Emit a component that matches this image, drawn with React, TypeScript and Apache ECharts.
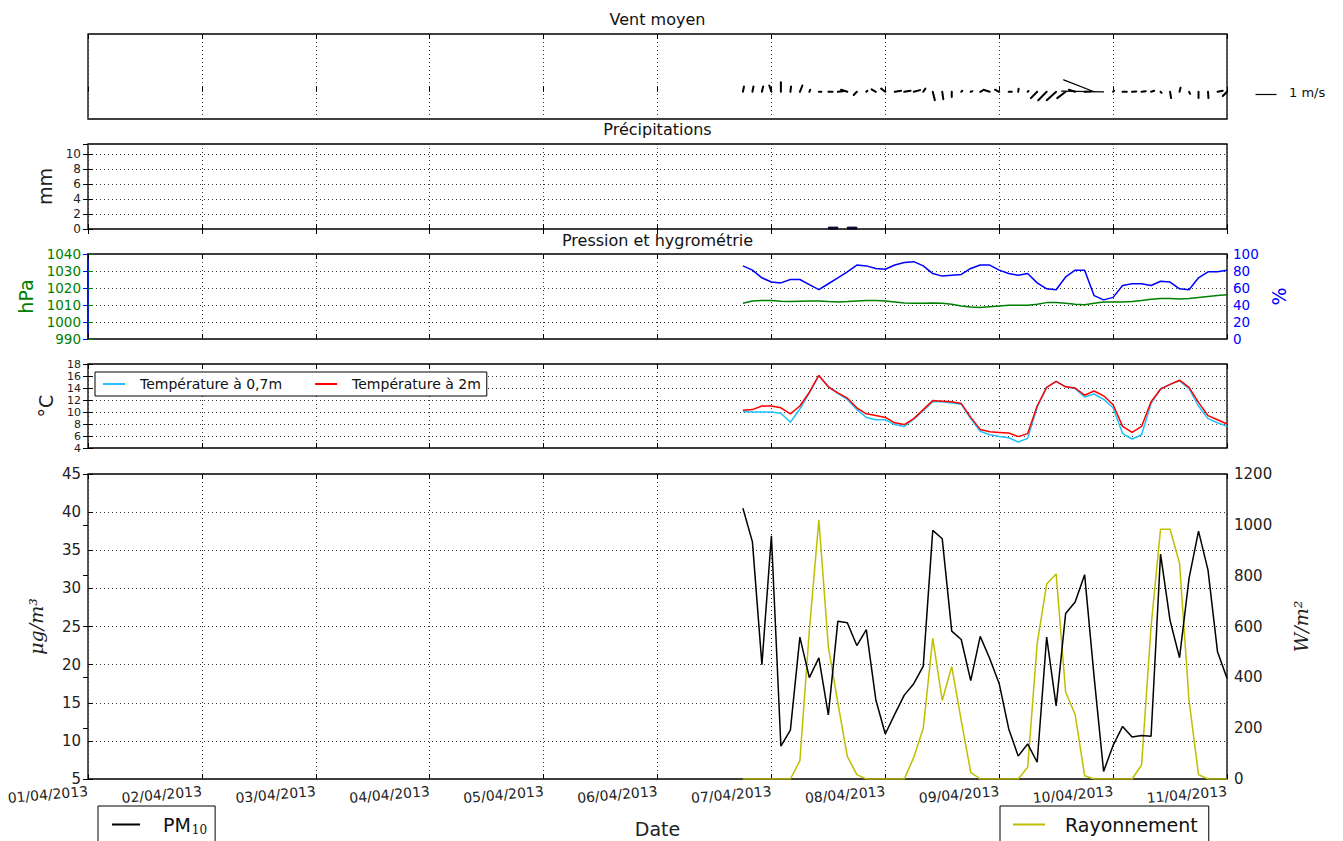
import React, { useEffect, useRef } from 'react';
import * as echarts from 'echarts';

// ---------- DATA ----------
const dateLabels = [
  '01/04/2013', '02/04/2013', '03/04/2013', '04/04/2013', '05/04/2013', '06/04/2013',
  '07/04/2013', '08/04/2013', '09/04/2013', '10/04/2013', '11/04/2013',
];
// first sample: 06/04/2013 18:00, in hours since 01/04/2013 00:00; one sample every 2 hours
const START_HOUR = 138;
const STEP_HOURS = 2;

const windU = [
  0.05, 0.05, 0.06, -0.1, 0.0, 0.03, 0.12, 0.04, 0.12, 0.2,
  0.25, -0.3, -0.15, 0.05, -0.2, -0.2, 0.3, 0.3, 0.3, 0.1,
  0.1, 0.05, 0.0, 0.05, 0.08, 0.1, -0.3, -0.2, 0.15, 0.02,
  0.04, -0.3, -0.4, -0.45, -0.4, -0.3, 0.3, -1.45, -2.0, 0.05,
  0.2, 0.2, 0.2, 0.15, 0.05, 0.05, 0.05, 0.05, 0.0, 0.02,
  0.25, -0.2,
];
const windV = [
  0.25, 0.25, 0.25, 0.3, 0.45, 0.25, 0.3, 0.1, 0.0, 0.0,
  0.03, 0.1, -0.15, 0.05, 0.12, 0.15, 0.05, 0.05, 0.08, 0.15,
  -0.4, -0.35, -0.25, 0.05, 0.03, 0.05, 0.1, 0.1, 0.0, 0.15,
  0.04, -0.3, -0.4, -0.4, -0.3, 0.1, 0.02, 0.57, 0.03, 0.05,
  0.0, 0.02, 0.03, 0.05, -0.05, -0.3, 0.2, -0.1, -0.3, -0.3,
  0.05, -0.2,
];
const precipitations = [
  0, 0, 0, 0, 0, 0, 0, 0, 0, 0.25,
  0, 0.25, 0, 0, 0, 0, 0, 0, 0, 0,
  0, 0, 0, 0, 0, 0, 0, 0, 0, 0,
  0, 0, 0, 0, 0, 0, 0, 0, 0, 0,
  0, 0, 0, 0, 0, 0, 0, 0, 0, 0,
  0, 0,
];
const pression = [
  1011, 1012.4, 1012.6, 1012.6, 1012.2, 1012, 1012.2, 1012.4, 1012.4, 1012,
  1011.8, 1012, 1012.4, 1012.6, 1012.6, 1012.4, 1011.8, 1011.2, 1011, 1011,
  1011.2, 1011, 1010.4, 1009.4, 1008.8, 1008.6, 1009, 1009.4, 1009.8, 1009.8,
  1009.8, 1010.4, 1011.4, 1011.4, 1011, 1010.4, 1010.2, 1011, 1011.8, 1011.8,
  1011.8, 1012, 1012.6, 1013.4, 1013.8, 1013.8, 1013.6, 1013.8, 1014.4, 1015,
  1015.6, 1016,
];
const humidite = [
  86, 81, 72, 67, 66, 70, 70, 64, 58, 65,
  72, 79, 87, 86, 83, 82, 87, 90, 91, 86,
  77, 74, 75, 76, 83, 87, 87, 81, 77, 75,
  77, 66, 59, 58, 73, 81, 81, 51, 46, 49,
  63, 65, 65, 63, 68, 67, 59, 58, 72, 79,
  79, 81,
];
const temp07 = [
  10.1, 10.0, 10.0, 10.0, 9.8, 8.3, 10.5, 13.2, 16.1, 14.2,
  13.1, 12.1, 10.4, 9.1, 8.7, 8.7, 7.9, 7.6, 8.8, 10.2,
  11.7, 11.7, 11.5, 11.3, 8.9, 6.8, 6.2, 5.9, 5.7, 5.0,
  5.6, 10.8, 14.1, 15.1, 14.2, 13.9, 12.5, 13.0, 12.1, 10.7,
  6.4, 5.5, 6.2, 11.4, 13.9, 14.6, 15.2, 13.9, 11.0, 8.9,
  8.2, 7.6,
];
const temp2 = [
  10.3, 10.4, 11.0, 11.0, 10.7, 9.7, 11.0, 13.3, 16.1, 14.2,
  13.2, 12.3, 10.7, 9.7, 9.4, 9.1, 8.2, 7.9, 8.9, 10.4,
  11.9, 11.8, 11.7, 11.4, 9.1, 7.1, 6.7, 6.6, 6.5, 5.9,
  6.4, 11.0, 14.1, 15.1, 14.2, 14.0, 12.8, 13.5, 12.7, 11.2,
  7.6, 6.6, 7.6, 11.7, 13.8, 14.6, 15.3, 14.1, 11.6, 9.4,
  8.7, 8.0,
];
const pm10 = [
  40.5, 36.1, 20.0, 36.9, 9.3, 11.4, 23.6, 18.3, 20.9, 13.4,
  25.7, 25.5, 22.5, 24.6, 15.4, 10.9, 13.5, 16.0, 17.5, 19.8,
  37.6, 36.5, 24.4, 23.3, 17.9, 23.7, 20.8, 17.5, 11.6, 8.0,
  9.6, 7.2, 23.6, 14.6, 26.7, 28.2, 31.8, 18.4, 6.0, 9.4,
  11.9, 10.5, 10.7, 10.6, 34.5, 25.8, 20.9, 31.3, 37.5, 32.4,
  21.7, 18.2,
];
const rayonnement = [
  0, 0, 0, 0, 0, 0, 72, 585, 1020, 520,
  300, 89, 17, 0, 0, 0, 0, 0, 85, 200,
  553, 309, 443, 230, 26, 0, 0, 0, 0, 0,
  46, 533, 767, 807, 342, 254, 13, 0, 0, 0,
  0, 0, 55, 600, 983, 983, 849, 309, 17, 0,
  0, 0,
];

// ---------- LAYOUT / STYLE ----------
const FONT = 'DejaVu Sans';
const WIND_PX = 21; // pixels per 1 m/s (quiver key)
const grids = [
  { top: 34, height: 85 },
  { top: 144, height: 85 },
  { top: 254, height: 85 },
  { top: 364, height: 84 },
  { top: 474, height: 305 },
];
const GRID_LEFT = 88;
const GRID_RIGHT = 116;
const DOT = { color: '#333', type: [1, 3] as number[], width: 1 };
const plain = (v: number) => String(v);

function buildOption() {
  const hours = pm10.map((_, i) => START_HOUR + STEP_HOURS * i);
  const pair = (arr: number[]) => arr.map((v, i) => [hours[i], v]);

  const xAxis: any[] = [];
  grids.forEach((_, gi) => {
    const last = gi === grids.length - 1;
    xAxis.push({
      type: 'value', gridIndex: gi, min: 0, max: 240, interval: 24, position: 'bottom',
      axisLine: { show: false },
      axisTick: { show: true, inside: true, length: 5, lineStyle: { color: '#000' } },
      axisLabel: last
        ? {
            show: true, rotate: 5, fontSize: 14, color: '#222', fontFamily: FONT, margin: 12,
            formatter: (v: number) => dateLabels[Math.round(v / 24)] ?? '',
          }
        : { show: false },
      splitLine: { show: true, lineStyle: DOT },
      name: last ? 'Date' : '',
      nameLocation: 'middle',
      nameGap: 40,
      nameTextStyle: { fontSize: 19, color: '#222', fontFamily: FONT },
    });
    xAxis.push({
      type: 'value', gridIndex: gi, min: 0, max: 240, interval: 24, position: 'top',
      axisLine: { show: false }, axisLabel: { show: false }, splitLine: { show: false },
      axisTick: { show: true, inside: true, length: 5, lineStyle: { color: '#000' } },
    });
  });

  const tickOnly = (gi: number, min: number, max: number, interval: number) => ({
    type: 'value', gridIndex: gi, position: 'right', min, max, interval,
    axisLine: { show: false }, axisLabel: { show: false }, splitLine: { show: false },
    axisTick: { show: true, inside: true, length: 5, lineStyle: { color: '#000' } },
  });
  const leftAxis = (gi: number, min: number, max: number, interval: number, name: string, nameGap: number, fontSize: number, showMax: boolean, extra: any = {}) => ({
    type: 'value', gridIndex: gi, position: 'left', min, max, interval,
    axisLine: { show: false },
    axisTick: { show: true, inside: true, length: 5, lineStyle: { color: '#000' } },
    axisLabel: {
      fontSize, lineHeight: fontSize, color: '#222', fontFamily: FONT, margin: 7,
      showMaxLabel: showMax, showMinLabel: true, hideOverlap: false, formatter: plain,
    },
    splitLine: { show: true, lineStyle: DOT },
    name, nameLocation: 'middle', nameGap, nameRotate: 90,
    nameTextStyle: { fontSize: 19, color: '#222', fontFamily: FONT },
    ...extra,
  });

  const yAxis: any[] = [
    { type: 'value', gridIndex: 0, min: -0.32, max: 0.68, show: false },
    leftAxis(1, 0, 11.4, 2, 'mm', 30, 12, false),
    tickOnly(1, 0, 11.4, 2),
    leftAxis(2, 990, 1040, 10, 'hPa', 50, 13.5, true, {
      axisLine: { show: true, lineStyle: { color: '#008000', width: 1.5 } },
      axisLabel: { fontSize: 13.5, color: '#008000', fontFamily: FONT, margin: 7, formatter: plain },
      axisTick: { show: true, inside: true, length: 5, lineStyle: { color: '#008000' } },
      nameTextStyle: { fontSize: 19, color: '#008000', fontFamily: FONT },
    }),
    {
      type: 'value', gridIndex: 2, position: 'right', min: 0, max: 100, interval: 20,
      axisLine: { show: true, lineStyle: { color: '#0000ff', width: 1.5 } },
      axisTick: { show: true, inside: true, length: 5, lineStyle: { color: '#0000ff' } },
      axisLabel: { fontSize: 13.5, color: '#0000ff', fontFamily: FONT, margin: 6, formatter: plain },
      splitLine: { show: false },
      name: '%', nameLocation: 'middle', nameGap: 38, nameRotate: 90,
      nameTextStyle: { fontSize: 19, color: '#0000ff', fontFamily: FONT },
    },
    leftAxis(3, 4, 18, 2, '°C', 33, 11, true),
    tickOnly(3, 4, 18, 2),
    leftAxis(4, 5, 45, 5, 'μg/m³', 43, 15, true, {
      nameTextStyle: { fontSize: 19, color: '#222', fontFamily: 'DejaVu Serif', fontStyle: 'italic' },
    }),
    {
      type: 'value', gridIndex: 4, position: 'right', min: 0, max: 1200, interval: 200,
      axisLine: { show: false },
      axisTick: { show: true, inside: true, length: 5, lineStyle: { color: '#000' } },
      axisLabel: { fontSize: 15, color: '#222', fontFamily: FONT, margin: 7, formatter: plain },
      splitLine: { show: false },
      name: 'W/m²', nameLocation: 'middle', nameGap: 64, nameRotate: 90,
      nameTextStyle: { fontSize: 19, color: '#222', fontFamily: 'DejaVu Serif', fontStyle: 'italic' },
    },
  ];

  const windData = hours.map((h, i) => [h, windU[i], windV[i]]);
  const precipData = hours.map((h, i) => [h, precipitations[i]]);

  const series: any[] = [
    {
      name: 'Vent', type: 'custom', xAxisIndex: 0, yAxisIndex: 0, data: windData,
      renderItem: (_p: any, api: any) => {
        const base = api.coord([api.value(0), 0]);
        const u = api.value(1);
        const v = api.value(2);
        const len = Math.sqrt(u * u + v * v);
        return {
          type: 'line',
          shape: { x1: base[0], y1: base[1], x2: base[0] + u * WIND_PX, y2: base[1] - v * WIND_PX },
          style: { stroke: '#000', lineWidth: len > 0.8 ? 1.2 : 2, lineCap: 'round' },
        };
      },
    },
    {
      name: 'Précipitations', type: 'custom', xAxisIndex: 2, yAxisIndex: 1, data: precipData,
      renderItem: (_p: any, api: any) => {
        const v = api.value(1);
        if (!v) return { type: 'group', children: [] };
        const p0 = api.coord([api.value(0), 0]);
        const p1 = api.coord([api.value(0) + STEP_HOURS, v]);
        return {
          type: 'rect',
          shape: { x: p0[0], y: p1[1], width: p1[0] - p0[0], height: p0[1] - p1[1] },
          style: { fill: '#000080', stroke: '#000', lineWidth: 1 },
        };
      },
    },
    {
      name: 'Pression', type: 'line', xAxisIndex: 4, yAxisIndex: 3, data: pair(pression),
      symbol: 'none', lineStyle: { color: '#008000', width: 1.5 }, itemStyle: { color: '#008000' },
    },
    {
      name: 'Hygrométrie', type: 'line', xAxisIndex: 4, yAxisIndex: 4, data: pair(humidite),
      symbol: 'none', lineStyle: { color: '#0000ff', width: 1.5 }, itemStyle: { color: '#0000ff' },
    },
    {
      name: 'Température à 0,7m', type: 'line', xAxisIndex: 6, yAxisIndex: 5, data: pair(temp07),
      symbol: 'none', lineStyle: { color: '#1fc1ff', width: 1.5 }, itemStyle: { color: '#1fc1ff' },
    },
    {
      name: 'Température à 2m', type: 'line', xAxisIndex: 6, yAxisIndex: 5, data: pair(temp2),
      symbol: 'none', lineStyle: { color: '#ff0000', width: 1.5 }, itemStyle: { color: '#ff0000' },
    },
    {
      name: 'Rayonnement', type: 'line', xAxisIndex: 8, yAxisIndex: 8, data: pair(rayonnement),
      symbol: 'none', lineStyle: { color: '#bfbf00', width: 1.5 }, itemStyle: { color: '#bfbf00' },
    },
    {
      name: 'PM10', type: 'line', xAxisIndex: 8, yAxisIndex: 7, data: pair(pm10),
      symbol: 'none', lineStyle: { color: '#000', width: 1.5 }, itemStyle: { color: '#000' },
    },
  ];

  const titleStyle = { fontSize: 16, fontWeight: 'normal', color: '#111', fontFamily: FONT };
  const centerX = GRID_LEFT + (1343 - GRID_LEFT - GRID_RIGHT) / 2;

  return {
    animation: false,
    backgroundColor: '#fff',
    textStyle: { fontFamily: FONT },
    title: [
      { text: 'Vent moyen', left: centerX, top: 11, textAlign: 'center', padding: 0, textStyle: titleStyle },
      { text: 'Précipitations', left: centerX, top: 121, textAlign: 'center', padding: 0, textStyle: titleStyle },
      { text: 'Pression et hygrométrie', left: centerX, top: 232, textAlign: 'center', padding: 0, textStyle: titleStyle },
    ],
    grid: grids.map((g) => ({
      left: GRID_LEFT, right: GRID_RIGHT, top: g.top, height: g.height,
      show: true, borderColor: '#000', borderWidth: 1.3, backgroundColor: 'transparent', containLabel: false,
    })),
    legend: [
      {
        data: ['Température à 0,7m', 'Température à 2m'], left: 95, top: 372, orient: 'horizontal',
        icon: 'rect', itemWidth: 22, itemHeight: 2, itemGap: 33,
        padding: [5, 6, 5, 8], borderColor: '#000', borderWidth: 1, backgroundColor: '#fff',
        textStyle: { fontSize: 14, color: '#111', fontFamily: FONT, padding: [0, 0, 0, 10] },
        selectedMode: false,
      },
      {
        data: ['PM10'], left: 98, top: 806, icon: 'rect', itemWidth: 28, itemHeight: 2,
        padding: [9, 8, 12, 14], borderColor: '#000', borderWidth: 1, backgroundColor: '#fff',
        formatter: () => '{m|PM}{s|10}',
        textStyle: {
          fontSize: 19, color: '#111', fontFamily: FONT, padding: [0, 0, 0, 18],
          rich: {
            m: { fontSize: 19, fontFamily: FONT, color: '#111' },
            s: { fontSize: 12, fontFamily: 'DejaVu Serif', color: '#111', padding: [10, 0, 0, 1] },
          },
        },
        selectedMode: false,
      },
      {
        data: ['Rayonnement'], left: 1000, top: 806, icon: 'rect', itemWidth: 32, itemHeight: 2,
        padding: [9, 11, 12, 13], borderColor: '#000', borderWidth: 1, backgroundColor: '#fff',
        textStyle: { fontSize: 19, color: '#111', fontFamily: FONT, padding: [0, 0, 0, 15] },
        selectedMode: false,
      },
    ],
    xAxis,
    yAxis,
    series,
    graphic: [
      {
        type: 'line', left: 1253, top: 92,
        shape: { x1: 0, y1: 0, x2: WIND_PX, y2: 0 },
        style: { stroke: '#000', lineWidth: 1.2 },
      },
      {
        type: 'text', left: 1289, top: 86,
        style: { text: '1 m/s', fontSize: 13, fill: '#111', fontFamily: FONT },
      },
    ],
  };
}

export default function App() {
  const ref = useRef<HTMLDivElement>(null);
  useEffect(() => {
    if (!ref.current) return;
    const chart = echarts.init(ref.current, undefined, { renderer: 'svg' });
    chart.setOption(buildOption() as any);
    return () => chart.dispose();
  }, []);
  return (
    <div
      ref={ref}
      style={{ position: 'fixed', left: 0, top: 0, width: 1343, height: 841, background: '#fff' }}
    />
  );
}
